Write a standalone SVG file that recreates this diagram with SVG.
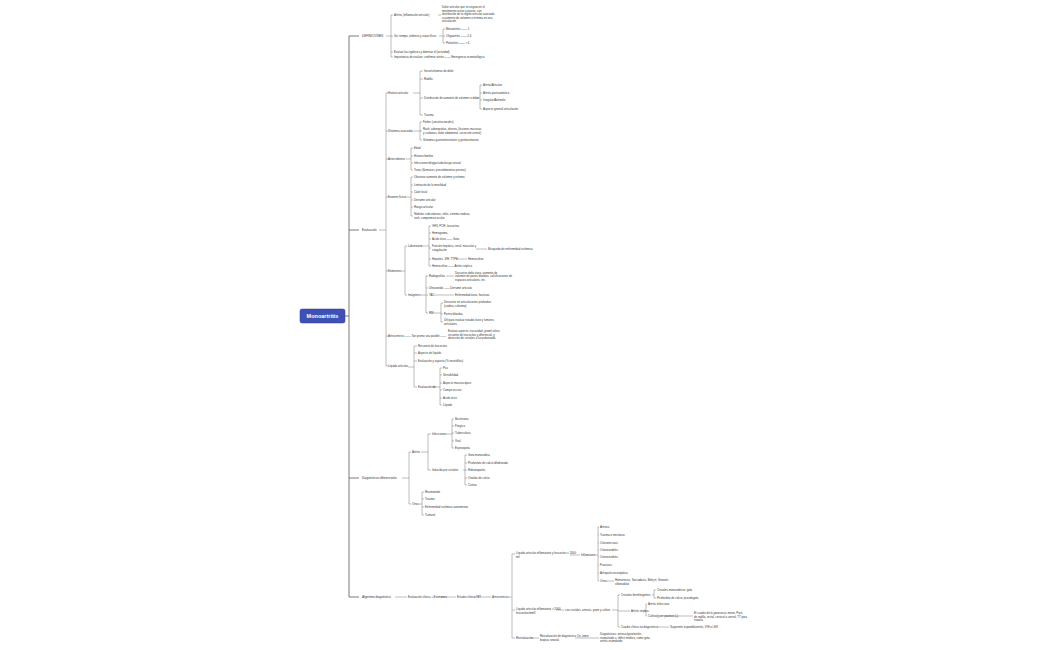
<svg xmlns="http://www.w3.org/2000/svg" width="1050" height="650" viewBox="0 0 1050 650">
<style>
text{font-family:"Liberation Sans",Arial,sans-serif;fill:#333;font-size:2.8px}
.l1{font-size:3px}
.c path{fill:none;stroke:#555;stroke-width:0.4}
.c .t{stroke:#444;stroke-width:0.7}
.c .g{stroke:#bbb;stroke-width:1}
</style>
<rect width="1050" height="650" fill="#fff"/>
<g class="c">
<path class="t" d="M345 316H349M349 36V597M349 36H359M349 230H359M349 478H359M349 597H359"/>
<path d="M386 36H391M391 15V57M391 15H393M391 36H393M391 52H393M391 57H393M438 15H441M439 36H443M443 29V43M443 29H445M443 36H445M443 43H445"/>
<path d="M379 230H386M386 93V366M386 93H388M386 131H388M386 159H388M386 197H388M386 271H388M386 336H388M386 366H388"/>
<path d="M413 93H420M420 71V115M420 71H423M420 79H423M420 98H423M420 115H423M476 98H480M480 85V109M480 85H482M480 93H482M480 100H482M480 109H482"/>
<path d="M414 131H420M420 122V140M420 122H422M420 131H422M420 140H422"/>
<path d="M406 159H411M411 148V170M411 148H413M411 156H413M411 163H413M411 170H413"/>
<path d="M405 197H411M411 177V216M411 177H413M411 185H413M411 192H413M411 200H413M411 207H413M411 216H413"/>
<path d="M401 271H405M405 246V295M405 246H407M405 295H407M421 246H429M429 226V266M429 226H431M429 233H431M429 239H431M429 248H431M429 259H431M429 266H431M476 249H487M456 259H467"/>
<path d="M420 295H426M426 276V313M426 276H428M426 288H428M426 295H428M426 313H428M446 276H454M434 295H454M433 313H441M441 303V322M441 303H443M441 314H443M441 322H443"/>
<path d="M408 367H414M414 346V387M414 346H417M414 353H417M414 361H417M414 387H417M432 387H440M440 368V405M440 368H442M440 375H442M440 383H442M440 390H442M440 398H442M440 405H442"/>
<path d="M402 478H409M409 452V504M409 452H411M409 504H411M421 452H428M428 434V470M428 434H431M428 470H431M446 434H452M452 419V448M452 419H454M452 426H454M452 433H454M452 441H454M452 448H454M463 470H465M465 455V485M465 455H467M465 463H467M465 470H467M465 478H467M465 485H467M419 504H422M422 492V515M422 492H424M422 499H424M422 507H424M422 515H424"/>
<path d="M395 597H407M441 597H456M474 597H491M508 597H512"/>
<path class="g" d="M512 554V638M512 554H515M512 610H515M512 638H515"/>
<path d="M570 555H580M596 555H598M598 527V581M598 527H599M598 535H599M598 543H599M598 550H599M598 557H599M598 565H599M598 573H599M598 581H599M607 581H614"/>
<path d="M556 610H564M612 610H618M618 595V627M618 595H620M618 611H630M618 627H620M652 595H654M654 590V598M654 590H656M654 598H656M644 611H646M646 604V616M646 604H647M646 616H647M664 616H693M657 627H669"/>
<path d="M531 638H539M575 638H599"/>
</g>
<g id="root"><rect x="300" y="309" width="45" height="14" rx="2" fill="#3f51b5" stroke="#2c3a8f" stroke-width="0.5"/><text x="322.5" y="318" text-anchor="middle" style="fill:#fff;font-size:5.5px;font-weight:bold">Monoartritis</text></g>
<g id="definiciones">
<text class="l1" x="362" y="37">DEFINICIONES</text>
<text x="394" y="16">Artritis (inflamación articular)</text>
<text x="442" y="8">Dolor articular que se origina en el</text>
<text x="442" y="11.5">movimiento activo y pasivo, con</text>
<text x="442" y="15">distribución de la región articular asociada</text>
<text x="442" y="18.5">a aumento de volumen o eritema en una</text>
<text x="442" y="22">articulación</text>
<text x="394" y="37">Gu: tiempo, órdenes y específicos</text>
<text x="446" y="30">Monoartritis —— 1</text>
<text x="446" y="37">Oligoartritis —— 2-4</text>
<text x="446" y="44">Poliartritis —— &gt; 4</text>
<text x="394" y="53">Evaluar las rigideces y dominar el (actividad)</text>
<text x="394" y="58">Importancia de evaluar: confirmar artritis —— Emergencia reumatológica</text>
</g>
<g id="evaluacion">
<text class="l1" x="362" y="231">Evaluación</text>
<text x="388" y="94">Historia articular</text>
<text x="424" y="72">Inicio/síntomas de dolor</text>
<text x="424" y="80">Rodilla</text>
<text x="424" y="99">Distribución de aumento de volumen o dolor</text>
<text x="483" y="86">Artritis/Articular</text>
<text x="483" y="94">Artritis postraumática</text>
<text x="483" y="101">Irregular/Anómalo</text>
<text x="483" y="110">Aspecto general articulación</text>
<text x="424" y="116">Trauma</text>
<text x="388" y="132">Síntomas asociados</text>
<text x="423" y="123">Fiebre (constitucionales)</text>
<text x="423" y="130">Rash, adenopatías, diarrea, (lesiones mucosas</text>
<text x="423" y="133.5">y cutáneas, dolor abdominal, secreción uretral)</text>
<text x="423" y="141">Síntomas gastrointestinales y genitourinarios</text>
<text x="388" y="160">Antecedentes</text>
<text x="414" y="149">Edad</text>
<text x="414" y="157">Historia familiar</text>
<text x="414" y="164">Infecciones/drogas/sida/riesgo sexual</text>
<text x="414" y="171">Tratar (fármacos, procedimientos previos)</text>
<text x="388" y="198">Examen físico</text>
<text x="414" y="178">Observar aumento de volumen y eritema</text>
<text x="414" y="186">Limitación de la movilidad</text>
<text x="414" y="193">Calor local</text>
<text x="414" y="201">Derrame articular</text>
<text x="414" y="208">Rango articular</text>
<text x="414" y="215">Nódulos subcutáneos, tofos, eritema nodoso,</text>
<text x="414" y="218.5">rash, compromiso ocular</text>
<text x="388" y="272">Exámenes</text>
<text x="408" y="247">Laboratorio</text>
<text x="432" y="227">VHS, PCR, leucocitos</text>
<text x="432" y="234">Hemograma</text>
<text x="432" y="240">Ácido úrico —— Gota</text>
<text x="432" y="247">Función hepática, renal, muscular y</text>
<text x="432" y="250.5">coagulación</text>
<text x="488" y="250">Búsqueda de enfermedad sistémica</text>
<text x="432" y="260">Hepatitis, VIH, TTPK</text>
<text x="468" y="260">Hemocultivo</text>
<text x="432" y="267">Hemocultivo —— Artritis séptica</text>
<text x="408" y="296">Imágenes</text>
<text x="429" y="277">Radiografías</text>
<text x="455" y="273.5">Descartar daño óseo, aumento de</text>
<text x="455" y="277">volumen de partes blandas, calcificaciones de</text>
<text x="455" y="280.5">espacios articulares, etc.</text>
<text x="429" y="289">Ultrasonido —— Derrame articular</text>
<text x="429" y="296">TAC</text>
<text x="455" y="296">Enfermedad ósea, fracturas</text>
<text x="429" y="314">RM</text>
<text x="444" y="303">Descartar en articulaciones profundas</text>
<text x="444" y="306.5">(cadera, columna)</text>
<text x="444" y="315">Partes blandas</text>
<text x="444" y="321">Útil para evaluar estadio óseo y tumores</text>
<text x="444" y="324.5">articulares</text>
<text x="388" y="337">Artrocentesis —— Tan pronto sea posible ——</text>
<text x="448" y="332">Evaluar aspecto, viscosidad, gram/cultivo,</text>
<text x="448" y="335.5">recuento de leucocitos y diferencial, y</text>
<text x="448" y="339">detección de cristales a luz polarizada</text>
<text x="388" y="367">Líquido articular</text>
<text x="418" y="347">Recuento de leucocitos</text>
<text x="418" y="354">Aspecto de líquido</text>
<text x="418" y="362">Evaluación y aspecto (% neutrófilos)</text>
<text x="418" y="388">Evaluación de:</text>
<text x="443" y="369">Pus</text>
<text x="443" y="376">Sensibilidad</text>
<text x="443" y="384">Aspecto macroscópico</text>
<text x="443" y="391">Campo oscuro</text>
<text x="443" y="399">Ácido úrico</text>
<text x="443" y="406">Líquido</text>
</g>
<g id="diagnosticos">
<text class="l1" x="362" y="479">Diagnósticos diferenciales</text>
<text x="412" y="453">Artritis</text>
<text x="432" y="435">Infecciones</text>
<text x="455" y="420">Bacteriana</text>
<text x="455" y="427">Fúngica</text>
<text x="455" y="434">Tuberculosis</text>
<text x="455" y="442">Viral</text>
<text x="455" y="449">Espiroqueta</text>
<text x="432" y="471">Inducida por cristales</text>
<text x="468" y="456">Gota monosódica</text>
<text x="468" y="464">Pirofosfato de calcio dihidratado</text>
<text x="468" y="471">Hidroxiapatita</text>
<text x="468" y="479">Oxalato de calcio</text>
<text x="468" y="486">Cistina</text>
<text x="412" y="505">Otros</text>
<text x="425" y="493">Reumatoide</text>
<text x="425" y="500">Trauma</text>
<text x="425" y="508">Enfermedad sistémica autoinmune</text>
<text x="425" y="516">Tumoral</text>
</g>
<g id="algoritmo">
<text class="l1" x="362" y="598">Algoritmo diagnóstico</text>
<text x="408" y="598">Evaluación clínica + Exámenes</text>
<text x="457" y="598">Estudio clínico / RT</text>
<text x="492" y="598">Artrocentesis</text>
<text x="516" y="554">Líquido articular inflamatorio y leucocitos &lt; 2000</text>
<text x="516" y="557.5">mil</text>
<text x="581" y="556">Inflamatorio</text>
<text x="600" y="528">Artrosis</text>
<text x="600" y="536">Trauma o mecánica</text>
<text x="600" y="544">Osteonecrosis</text>
<text x="600" y="551">Osteocondritis</text>
<text x="600" y="558">Osteocondritis</text>
<text x="600" y="566">Fracturas</text>
<text x="600" y="574">Artropatía neuropática</text>
<text x="600" y="582">Otros</text>
<text x="615" y="581">Hemartrosis, Sarcoidosis, Behçet, Sinovitis</text>
<text x="615" y="584.5">villonodular</text>
<text x="516" y="610">Líquido articular inflamatorio &gt; 2000</text>
<text x="516" y="613.5">leucocitos/mm3</text>
<text x="565" y="611">con cristales, artrosis, gram y cultivo</text>
<text x="621" y="596">Cristales birrefringentes</text>
<text x="657" y="591">Cristales monosódicos: gota</text>
<text x="657" y="599">Pirofosfato de calcio: pseudogota</text>
<text x="631" y="612">Artritis séptica</text>
<text x="648" y="605">Artritis infecciosa</text>
<text x="648" y="617">Cultivo/gram positivo (+)</text>
<text x="694" y="614">El cuadro de la gonococia: mono, Pará</text>
<text x="694" y="617.5">de rodilla, rectal, cervical o uretral, TT para</text>
<text x="694" y="621">tratarla</text>
<text x="621" y="628">Cuadro clínico no diagnóstico</text>
<text x="670" y="628">Sugerente espondiloartritis, VIH o LES</text>
<text x="516" y="639">Reevaluación</text>
<text x="540" y="637">Reevaluación de diagnóstico: Dx, tomo</text>
<text x="540" y="640.5">biopsia sinovial</text>
<text x="600" y="635">Diagnósticos: artrosis/gota/artritis</text>
<text x="600" y="638.5">reumatoide u, déficit médico, como gota,</text>
<text x="600" y="642">artritis reumatoide</text>
</g>
</svg>
